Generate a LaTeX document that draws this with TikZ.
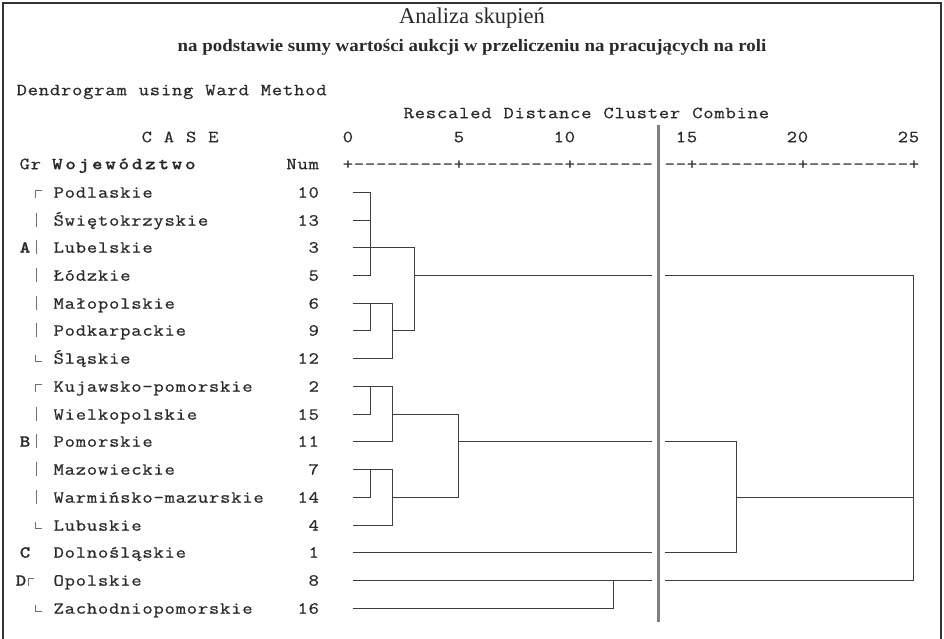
\documentclass[tikz,border=0pt]{standalone}
\usepackage{fontspec}
\newfontfamily\ttl{Liberation Serif}
\newfontfamily\mono{lmmono12-regular.otf}[FakeBold=0.6]
\newfontfamily\monob{lmmonolt10-bold.otf}[FakeBold=0.6]
\definecolor{tx}{HTML}{2A2A2A}
\definecolor{dk}{HTML}{3E3E3E}
\definecolor{bc}{HTML}{6E6E6E}
\definecolor{gl}{HTML}{808080}
\definecolor{fr}{HTML}{333333}
\ExplSyntaxOn
\NewDocumentCommand\cells{O{11.1pt}m}{\exp_args:No \tl_map_inline:nn {#2} {\makebox[#1][c]{\scalebox{1.18}[1]{##1}}}}
\ExplSyntaxOff
\begin{document}
\begin{tikzpicture}[x=1pt,y=-1pt,
  dl/.style={draw=dk, line width=1.6pt},
  br/.style={draw=bc, line width=1pt},
  mono/.style={font=\mono\fontsize{17}{19}\selectfont, inner sep=0pt, text=tx},
  monob/.style={font=\monob\fontsize{17}{19}\selectfont, inner sep=0pt, text=tx}]
\useasboundingbox (0,0) rectangle (944,639);
\clip (0,0) rectangle (944,639);
\draw[line width=1.5pt, draw=fr] (3,3) rectangle (941,700);
% titles
\node[font=\ttl\fontsize{22.5}{24}\selectfont, text=tx, inner sep=0pt] (title) at (472,18) {Analiza skupień};
\node[font=\ttl\bfseries\fontsize{17.5}{19}\selectfont, text=tx, inner sep=0pt] (sub) at (472,47) {\scalebox{1.08}[1]{na podstawie sumy wartości aukcji w przeliczeniu na pracujących na roli}};
\node[mono, anchor=base west] (dend) at (16,95.2) {\cells{Dendrogram~using~Ward~Method}};
\node[mono, anchor=base west] (resc) at (403,118.2) {\cells{Rescaled~Distance~Cluster~Combine}};
\node[mono, anchor=base west] (case) at (141,142.2) {\cells{C~A~S~E}};
\node[mono, anchor=base west] (scale) at (342.15,142.2) {\cells{0~~~~~~~~~5~~~~~~~~10~~~~~~~~~15~~~~~~~~20~~~~~~~~25}};
\node[mono, anchor=base west] (gr) at (19,169.2) {\cells{Gr}};
\node[monob, anchor=base west] (woj) at (50.5,169.2) {\cells[13.3pt]{Województwo}};
\node[mono, anchor=base east] (num) at (319.5,169.2) {\cells{Num}};
\node[mono, anchor=base west] (ruler) at (342.15,169.3) {\cells{+---------+---------+-------~--+---------+---------+}};
% rows
\foreach \nm/\nu/\yy [count=\i from 0] in {Podlaskie/10/192.5, Świętokrzyskie/13/220.5, Lubelskie/3/247.5, Łódzkie/5/275.5, Małopolskie/6/303.5, Podkarpackie/9/330.5, Śląskie/12/358.5, Kujawsko-pomorskie/2/386.5, Wielkopolskie/15/414.5, Pomorskie/11/441.5, Mazowieckie/7/469.5, Warmińsko-mazurskie/14/497.5, Lubuskie/4/525.5, Dolnośląskie/1/552.5, Opolskie/8/580.5, Zachodniopomorskie/16/608.5}{
  \coordinate (r\i) at (0,\yy);
  \node[mono, anchor=base west] (n\i) at ([yshift=-5.2pt]53,\yy) {\cells{\nm}};
  \node[mono, anchor=base east] (k\i) at ([yshift=-5.2pt]319.5,\yy) {\cells{\nu}};
}
% group letters
\coordinate (gx) at (25,0);
\coordinate (gdx) at (21,0);
\node[monob, anchor=base] (gA) at ([yshift=-5.2pt]gx |- r2) {\scalebox{1.18}[1]{A}};
\node[monob, anchor=base] (gB) at ([yshift=-5.2pt]gx |- r9) {\scalebox{1.18}[1]{B}};
\node[monob, anchor=base] (gC) at ([yshift=-5.2pt]gx |- r13) {\scalebox{1.18}[1]{C}};
\node[monob, anchor=base] (gD) at ([yshift=-5.2pt]gdx |- r14) {\scalebox{1.18}[1]{D}};
% brackets
\coordinate (bx) at (35.5,0);
\coordinate (bxe) at (42,0);
\coordinate (bv) at (36.5,0);
\draw[br] ([yshift=2pt]bxe |- r0) -- ([yshift=2pt]bx |- r0) -- ([yshift=-5pt]bx |- r0);
\foreach \i in {1,...,5} \draw[br] ([yshift=8pt]bv |- r\i) -- ([yshift=-6pt]bv |- r\i);
\draw[br] ([yshift=4pt]bx |- r6) -- ([yshift=-3pt]bx |- r6) -- ([yshift=-3pt]bxe |- r6);
\draw[br] ([yshift=2pt]bxe |- r7) -- ([yshift=2pt]bx |- r7) -- ([yshift=-5pt]bx |- r7);
\foreach \i in {8,...,11} \draw[br] ([yshift=8pt]bv |- r\i) -- ([yshift=-6pt]bv |- r\i);
\draw[br] ([yshift=4pt]bx |- r12) -- ([yshift=-3pt]bx |- r12) -- ([yshift=-3pt]bxe |- r12);
\coordinate (dx) at (28.5,0);
\coordinate (dxe) at (33.5,0);
\draw[br] ([yshift=2pt]dxe |- r14) -- ([yshift=2pt]dx |- r14) -- ([yshift=-5pt]dx |- r14);
\draw[br] ([yshift=4pt]bx |- r15) -- ([yshift=-3pt]bx |- r15) -- ([yshift=-3pt]bxe |- r15);
% dendrogram columns
\coordinate (xL) at (352.5,0);
\coordinate (x1) at (370.5,0);
\coordinate (x2) at (392.5,0);
\coordinate (x3) at (414.5,0);
\coordinate (x5) at (458.5,0);
\coordinate (x12) at (613.5,0);
\coordinate (x17) at (736.5,0);
\coordinate (x25) at (913.5,0);
\coordinate (gL) at (651.5,0);
\coordinate (gR) at (664.5,0);
% cluster A
\foreach \i in {0,1,2,3} \draw[dl] (xL |- r\i) -- (x1 |- r\i);
\draw[dl] (x1 |- r0) -- (x1 |- r3);
\draw[dl] (x1 |- r2) -- (x3 |- r2);
\foreach \i in {4,5} \draw[dl] (xL |- r\i) -- (x1 |- r\i);
\draw[dl] (x1 |- r5) -- (x1 |- r4) -- (x2 |- r4) -- (x2 |- r6) -- (xL |- r6);
\draw[dl] (x2 |- r5) -- (x3 |- r5);
\draw[dl] (x3 |- r2) -- (x3 |- r5);
\draw[dl] (x3 |- r3) -- (gL |- r3);
\draw[dl] (gR |- r3) -- (x25 |- r3) -- (x25 |- r14) -- (gR |- r14);
% cluster B
\foreach \i in {7,8,10,11} \draw[dl] (xL |- r\i) -- (x1 |- r\i);
\draw[dl] (x1 |- r8) -- (x1 |- r7) -- (x2 |- r7) -- (x2 |- r9) -- (xL |- r9);
\draw[dl] (x2 |- r8) -- (x5 |- r8);
\draw[dl] (x1 |- r11) -- (x1 |- r10) -- (x2 |- r10) -- (x2 |- r12) -- (xL |- r12);
\draw[dl] (x2 |- r11) -- (x5 |- r11);
\draw[dl] (x5 |- r8) -- (x5 |- r11);
\draw[dl] (x5 |- r9) -- (gL |- r9);
\draw[dl] (gR |- r9) -- (x17 |- r9) -- (x17 |- r13) -- (gR |- r13);
\draw[dl] (xL |- r13) -- (gL |- r13);
\draw[dl] (x17 |- r11) -- (x25 |- r11);
% cluster D
\draw[dl] (xL |- r14) -- (gL |- r14);
\draw[dl] (x12 |- r14) -- (x12 |- r15) -- (xL |- r15);
% cut line
\coordinate (cutT) at (658.3,125);
\coordinate (cutB) at (658.3,621.7);
\draw[draw=gl, line width=3.2pt] (cutT) -- (cutB);
\end{tikzpicture}
\end{document}
